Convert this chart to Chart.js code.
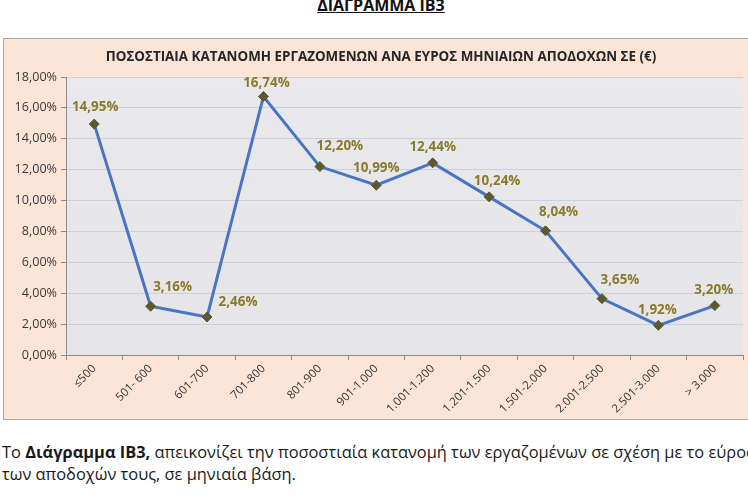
<!DOCTYPE html>
<html>
<head>
<meta charset="utf-8">
<script src="https://cdn.jsdelivr.net/npm/chart.js@4.4.1/dist/chart.umd.min.js"></script>
<style>
  html, body { margin: 0; padding: 0; background: #ffffff; width: 748px; height: 498px; overflow: hidden; position: relative; }
  #doc-title { position: absolute; left: 0; width: 762px; top: -5px; line-height: 20px; text-align: center; font-family: "Open Sans", sans-serif; font-weight: bold; font-size: 16px; color: #111; }
  #doc-title span { text-decoration: underline; }
  #box { position: absolute; left: 3px; top: 38px; width: 775px; height: 380px; background: #fce5d7; border: 1.5px solid #a9a9a9; }
  #cv { position: absolute; left: 0; top: 0; }
  #chart-title { position: absolute; left: 0; width: 762px; top: 48px; line-height: 16px; text-align: center; font-family: "Open Sans", sans-serif; font-weight: bold; font-size: 13.4px; color: #262626; white-space: nowrap; }
  .para { position: absolute; left: 2px; white-space: nowrap; line-height: 22px; font-family: "Open Sans", sans-serif; font-size: 16.4px; color: #1a1a1a; }
</style>
</head>
<body>
<div id="doc-title"><span>ΔΙΑΓΡΑΜΜΑ ΙΒ3</span></div>
<div id="box"></div>
<canvas id="cv" width="762" height="420"></canvas>
<div id="chart-title"></div>
<div class="para" style="top:441px;">Το <b>Διάγραμμα ΙΒ3,</b> απεικονίζει την ποσοστιαία κατανομή των εργαζομένων σε σχέση με το εύρος</div>
<div class="para" style="top:463px;">των αποδοχών τους, σε μηνιαία βάση.</div>
<script>
const categories = ['≤500', '501- 600', '601-700', '701-800', '801-900', '901-1.000', '1.001-1.200', '1.201-1.500', '1.501-2.000', '2.001-2.500', '2.501-3.000', '> 3.000'];
const shares = [14.95, 3.16, 2.46, 16.74, 12.20, 10.99, 12.44, 10.24, 8.04, 3.65, 1.92, 3.20];
const yMin = 0;
const yMax = 18;
const yStep = 2;
const chartTitle = 'ΠΟΣΟΣΤΙΑΙΑ ΚΑΤΑΝΟΜΗ ΕΡΓΑΖΟΜΕΝΩΝ ΑΝΑ ΕΥΡΟΣ ΜΗΝΙΑΙΩΝ ΑΠΟΔΟΧΩΝ ΣΕ (€)';

document.getElementById('chart-title').textContent = chartTitle;

const fmt = v => Number(v).toFixed(2).replace('.', ',') + '%';
const FONT = '"Open Sans", sans-serif';

const plotBg = {
  id: 'plotBg',
  beforeDraw(chart) {
    const {ctx, chartArea: a} = chart;
    ctx.save();
    const g = ctx.createLinearGradient(0, a.top, 0, a.bottom);
    g.addColorStop(0, '#e9e9eb');
    g.addColorStop(1, '#e5e5e7');
    ctx.fillStyle = g;
    ctx.fillRect(a.left, a.top, a.right - a.left, a.bottom - a.top);
    ctx.restore();
  }
};

const pointLabels = {
  id: 'pointLabels',
  afterDatasetsDraw(chart, args, opts) {
    const {ctx} = chart;
    const meta = chart.getDatasetMeta(0);
    ctx.save();
    ctx.font = opts.font;
    ctx.fillStyle = opts.color;
    ctx.textAlign = 'center';
    ctx.textBaseline = 'middle';
    meta.data.forEach((pt, i) => {
      const n = opts.nudge[i] || [0, -16];
      ctx.fillText(fmt(chart.data.datasets[0].data[i]), pt.x + n[0], pt.y + n[1]);
    });
    ctx.restore();
  }
};

new Chart(document.getElementById('cv'), {
  type: 'line',
  data: {
    labels: categories,
    datasets: [{
      data: shares,
      borderColor: '#4a74c4',
      borderWidth: 3,
      tension: 0,
      fill: false,
      pointStyle: 'rectRot',
      pointRadius: 5,
      pointBackgroundColor: '#5d592f',
      pointBorderColor: '#5d592f',
      pointBorderWidth: 1
    }]
  },
  options: {
    responsive: false,
    animation: false,
    layout: { padding: { left: 10, right: 19, top: 77, bottom: 0 } },
    plugins: {
      legend: { display: false },
      tooltip: { enabled: false },
      title: { display: false },
      pointLabels: {
        font: 'bold 13.4px ' + FONT,
        color: '#8a7a2c',
        nudge: [[1, -17], [22, -19], [31, -15], [3, -13], [20, -20], [0, -17], [0, -16], [8, -16], [13, -19], [18, -18], [-1, -15], [-1, -15]]
      }
    },
    scales: {
      x: {
        type: 'category',
        offset: true,
        grid: { offset: true, drawOnChartArea: false, drawTicks: true, tickLength: 5, color: '#8c8c8c' },
        border: { display: true, color: '#8c8c8c', width: 1 },
        ticks: { minRotation: 45, maxRotation: 45, autoSkip: false, padding: 2, color: '#333333', font: { family: FONT, size: 11.5 } },
        afterFit(s) { s.height = 65; }
      },
      y: {
        min: yMin,
        max: yMax,
        ticks: { stepSize: yStep, callback: v => fmt(v), padding: 4, color: '#3a3a3a', font: { family: FONT, size: 12.6 } },
        grid: { color: '#c9d1dc', lineWidth: 1, drawTicks: true, tickLength: 5, tickColor: '#8c8c8c' },
        border: { display: true, color: '#8c8c8c', width: 1 },
        afterFit(s) { s.width = 56; }
      }
    }
  },
  plugins: [plotBg, pointLabels]
});
</script>
</body>
</html>
